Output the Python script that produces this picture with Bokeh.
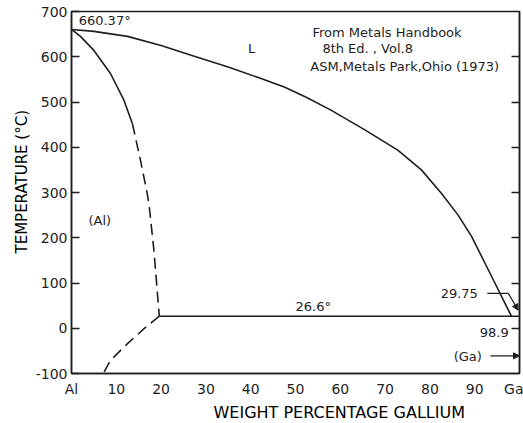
from bokeh.plotting import figure
from bokeh.models import (Label, Arrow, NormalHead, LinearAxis, FixedTicker, Range1d, Title)
from bokeh.embed import file_html
from bokeh.resources import INLINE

# ---- data (weight % Ga, temperature in deg C) ----
liquidus_x = [0, 5, 12.5, 20, 27.4, 34.8, 42, 47.5, 52.5, 57.9, 65.4, 72.9, 78.1, 82.6, 86.3, 89.3, 93.7, 98.2]
liquidus_t = [660.37, 656, 645, 625, 601, 578, 553, 533, 510, 482, 439, 393, 350, 298, 250, 203, 116, 26.6]

solidus_x = [0, 2, 5, 8.7, 11.7, 13.6]
solidus_t = [660.37, 645, 614, 563, 504, 452]

solvus_hi_x = [13.6, 15.4, 16.9, 17.4, 18.4, 19.3, 19.6]
solvus_hi_t = [452, 371, 298, 265, 172, 62, 26.6]

solvus_lo_x = [19.6, 16.2, 12.5, 8.7, 7.1]
solvus_lo_t = [26.6, -1, -34, -71, -100]

eutectic_x = [19.6, 100]
eutectic_t = [26.6, 26.6]

x_ticks = [0, 10, 20, 30, 40, 50, 60, 70, 80, 90, 100]
x_tick_labels = ["Al", "10", "20", "30", "40", "50", "60", "70", "80", "90", "Ga"]
y_ticks = [-100, 0, 100, 200, 300, 400, 500, 600, 700]
y_tick_labels = ["-100", "0", "100", "200", "300", "400", "500", "600", "700"]
y_right_ticks = [0, 100, 200, 300, 400, 500, 600]

FONT = "DejaVu Sans"
INK = "#1e1e1e"

p = figure(width=523, height=423, output_backend="svg", toolbar_location=None,
           x_range=Range1d(0, 100), y_range=Range1d(-100, 700),
           min_border_left=71, min_border_right=4, min_border_top=11, min_border_bottom=50)
p.grid.visible = False
p.outline_line_color = INK
p.outline_line_width = 1.5
p.background_fill_color = "white"
p.border_fill_color = "white"

# bottom axis
xa = p.xaxis[0]
xa.ticker = FixedTicker(ticks=x_ticks)
xa.major_label_overrides = {t: l for t, l in zip(x_ticks, x_tick_labels)}
xa.major_tick_in = 0
xa.major_tick_out = 0
xa.minor_tick_in = 0
xa.minor_tick_out = 0
xa.major_label_standoff = 7
xa.axis_line_color = INK
xa.axis_line_width = 1.5
xa.major_label_text_font = FONT
xa.major_label_text_font_size = "14px"
xa.major_label_text_color = INK

# left axis
ya = p.yaxis[0]
ya.ticker = FixedTicker(ticks=y_ticks)
ya.major_label_overrides = {t: l for t, l in zip(y_ticks, y_tick_labels)}
ya.major_tick_in = 8
ya.major_tick_out = 0
ya.minor_tick_in = 0
ya.minor_tick_out = 0
ya.major_tick_line_width = 1.5
ya.major_tick_line_color = INK
ya.major_label_standoff = 4
ya.axis_line_color = INK
ya.axis_line_width = 1.5
ya.major_label_text_font = FONT
ya.major_label_text_font_size = "14px"
ya.major_label_text_color = INK

# right axis (ticks only)
ra = LinearAxis(ticker=FixedTicker(ticks=y_right_ticks))
ra.major_label_overrides = {t: "" for t in y_right_ticks}
ra.major_tick_in = 8
ra.major_tick_out = 0
ra.minor_tick_in = 0
ra.minor_tick_out = 0
ra.major_tick_line_width = 1.5
ra.major_tick_line_color = INK
ra.major_label_standoff = 0
ra.axis_line_color = INK
ra.axis_line_width = 1.5
p.add_layout(ra, "right")

# axis titles
p.add_layout(Title(text="WEIGHT PERCENTAGE GALLIUM", align="left", offset=142,
                   text_font=FONT, text_font_size="16px", text_font_style="normal",
                   text_color="black", standoff=2), "below")
p.add_layout(Title(text="TEMPERATURE (°C)", align="left", offset=120,
                   text_font=FONT, text_font_size="15px", text_font_style="normal",
                   text_color="black", standoff=4), "left")

# curves
p.line(liquidus_x, liquidus_t, line_color=INK, line_width=1.6)
p.line(solidus_x, solidus_t, line_color=INK, line_width=1.6)
p.line(solvus_hi_x, solvus_hi_t, line_color=INK, line_width=1.6, line_dash="11 6")
p.line(solvus_lo_x, solvus_lo_t, line_color=INK, line_width=1.6, line_dash="11 6")
p.line(eutectic_x, eutectic_t, line_color=INK, line_width=1.6)

def lab(x, y, text, size="13px", align="left"):
    p.add_layout(Label(x=x, y=y, text=text, text_font=FONT, text_font_size=size,
                       text_color=INK, text_align=align, text_baseline="middle"))

lab(1.6, 681, "660.37°")
lab(40.2, 619, "L", align="center")
lab(53.8, 654, "From Metals Handbook")
lab(56.0, 619, "8th Ed. , Vol.8")
lab(53.3, 579, "ASM,Metals Park,Ohio (1973)")
lab(3.8, 239, "(Al)")
lab(50.0, 49, "26.6°")
lab(82.4, 77, "29.75")
lab(97.6, -9, "98.9", align="right")
lab(85.3, -62, "(Ga)")

# leaders / arrows
p.line([92.8, 97.5], [77, 77], line_color=INK, line_width=1.2)
p.add_layout(Arrow(end=NormalHead(size=6, fill_color=INK, line_color=INK),
                   x_start=97.5, y_start=77, x_end=99.7, y_end=40,
                   line_color=INK, line_width=1.2))
p.add_layout(Arrow(end=NormalHead(size=6, fill_color=INK, line_color=INK),
                   x_start=93.5, y_start=-61, x_end=100, y_end=-61,
                   line_color=INK, line_width=1.2))

open("out.html", "w").write(file_html(p, INLINE))
